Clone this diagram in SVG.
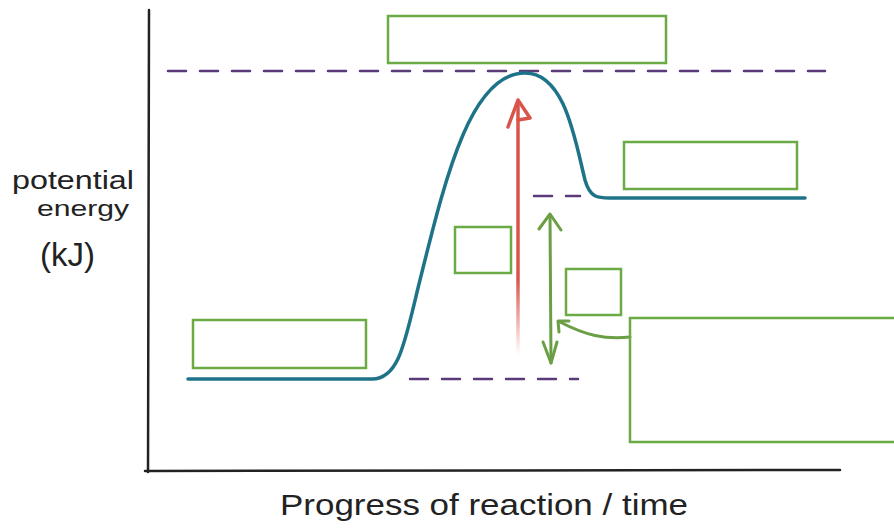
<svg xmlns="http://www.w3.org/2000/svg" width="894" height="529" viewBox="0 0 894 529">
<defs>
<style>
.box{fill:none;stroke:#6aab45;stroke-width:2.5}
.dash{stroke:#5a3a78;stroke-width:2.5;stroke-dasharray:18 14;stroke-linecap:round;fill:none}
.axis{stroke:#222;stroke-width:2.5;fill:none;stroke-linecap:round}
.lbl{font-family:"Liberation Sans","DejaVu Sans",sans-serif;fill:#222}
.grn{stroke:#6a9f45;stroke-width:3;fill:none;stroke-linecap:round;stroke-linejoin:round}
</style>
<linearGradient id="fade" gradientUnits="userSpaceOnUse" x1="518" y1="355" x2="518" y2="100">
<stop offset="0" stop-color="#d9544a" stop-opacity="0"/>
<stop offset="0.3" stop-color="#d9544a" stop-opacity="1"/>
<stop offset="1" stop-color="#d9544a"/>
</linearGradient>
</defs>
<rect width="894" height="529" fill="#fff"/>
<g id="axes">
<path class="axis" d="M149 10 L148 472"/>
<path class="axis" d="M145 471 L840 470"/>
</g>
<g id="dashes">
<path class="dash" d="M168 71 L825 71"/>
<path class="dash" d="M534 196 L580 196"/>
<path class="dash" d="M410 379 L578 379"/>
</g>
<g id="curve">
<path d="M188 379 L372 379 C400 379 405 340 420 280 C445 180 470 73 525 73 C565 73 575 140 585 180 C590 198 598 198 610 198 L805 198" fill="none" stroke="#1f7388" stroke-width="3.5" stroke-linecap="round"/>
</g>
<g id="connectors">
<g id="red-arrow">
<path d="M518 355 L518 104" stroke="url(#fade)" stroke-width="3.5" fill="none"/>
<path d="M508 127 L518 100 L530 118 L518 120" stroke="#d9544a" stroke-width="3.5" fill="none" stroke-linecap="round" stroke-linejoin="round"/>
</g>
<g id="green-double-arrow">
<path class="grn" d="M550 215 L551 363"/>
<path class="grn" d="M539 229 L550 214 L561 230"/>
<path class="grn" d="M543 342 L551 363 L557 342"/>
</g>
<g id="curved-arrow">
<path class="grn" d="M630 337 C605 340 585 335 560 322" stroke-width="2.5"/>
<path class="grn" d="M559 332 L558 321 L569 321" stroke-width="2.5"/>
</g>
</g>
<g id="box-top"><rect class="box" x="388" y="16" width="278" height="47"/></g>
<g id="box-right"><rect class="box" x="624" y="142" width="173" height="47"/></g>
<g id="box-left"><rect class="box" x="193" y="320" width="173" height="48"/></g>
<g id="box-small1"><rect class="box" x="455" y="227" width="56" height="46"/></g>
<g id="box-small2"><rect class="box" x="566" y="269" width="55" height="46"/></g>
<g id="box-big"><rect class="box" x="630" y="318" width="270" height="124"/></g>
<g id="labels">
<text class="lbl" x="12" y="189" font-size="25" textLength="122" lengthAdjust="spacingAndGlyphs">potential</text>
<text class="lbl" x="37" y="216" font-size="22" textLength="92" lengthAdjust="spacingAndGlyphs">energy</text>
<text class="lbl" x="40" y="266" font-size="34" textLength="55" lengthAdjust="spacingAndGlyphs">(kJ)</text>
<text class="lbl" x="280" y="515" font-size="30" textLength="408" lengthAdjust="spacingAndGlyphs">Progress  of reaction / time</text>
</g>
</svg>
